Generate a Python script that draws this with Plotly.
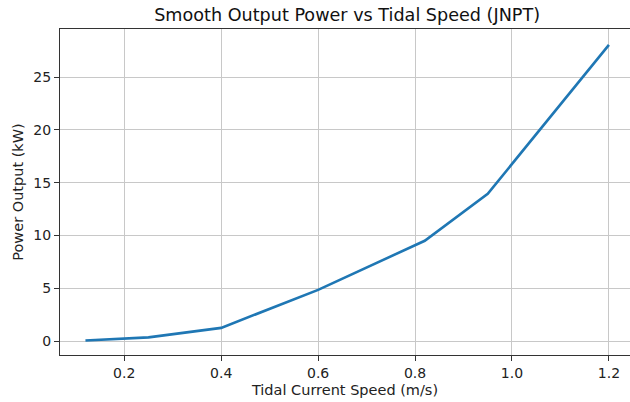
import plotly.graph_objects as go

speed = [0.12, 0.25, 0.40, 0.60, 0.82, 0.95, 1.20]
power = [0.05, 0.35, 1.25, 4.85, 9.5, 13.95, 28.05]
x_ticks = [0.2, 0.4, 0.6, 0.8, 1.0, 1.2]
x_tick_text = ["0.2", "0.4", "0.6", "0.8", "1.0", "1.2"]
y_ticks = [0, 5, 10, 15, 20, 25]

font = "DejaVu Sans, sans-serif"

fig = go.Figure()
fig.add_trace(go.Scatter(x=speed, y=power, mode="lines",
                         line=dict(color="#1f77b4", width=2.6)))

fig.update_layout(
    width=630, height=402,
    margin=dict(l=60, r=0, t=29, b=47),
    paper_bgcolor="white", plot_bgcolor="white",
    showlegend=False,
    font=dict(family=font, color="#222", size=14),
    title=dict(text="Smooth Output Power vs Tidal Speed (JNPT)",
               x=0.551, xanchor="center", y=0.962, yanchor="middle",
               font=dict(family=font, size=17.6, color="#111")),
)
fig.update_xaxes(
    range=[0.0675, 1.2435], tickvals=x_ticks, ticktext=x_tick_text,
    showgrid=True, gridcolor="#c8c8c8", gridwidth=1,
    showline=True, linecolor="#333", linewidth=1.2, mirror=True,
    ticks="outside", ticklen=5, tickcolor="#333",
    zeroline=False,
    title=dict(text="Tidal Current Speed (m/s)", standoff=4,
               font=dict(family=font, size=14.5)),
    tickfont=dict(size=14),
)
fig.update_yaxes(
    range=[-1.32, 29.56], tickvals=y_ticks,
    showgrid=True, gridcolor="#c8c8c8", gridwidth=1,
    showline=True, linecolor="#333", linewidth=1.2, mirror=False,
    ticks="outside", ticklen=5, tickcolor="#333",
    zeroline=False,
    title=dict(text="Power Output (kW)", standoff=6,
               font=dict(family=font, size=14.5)),
    tickfont=dict(size=14),
)

fig.write_html("out.html")
